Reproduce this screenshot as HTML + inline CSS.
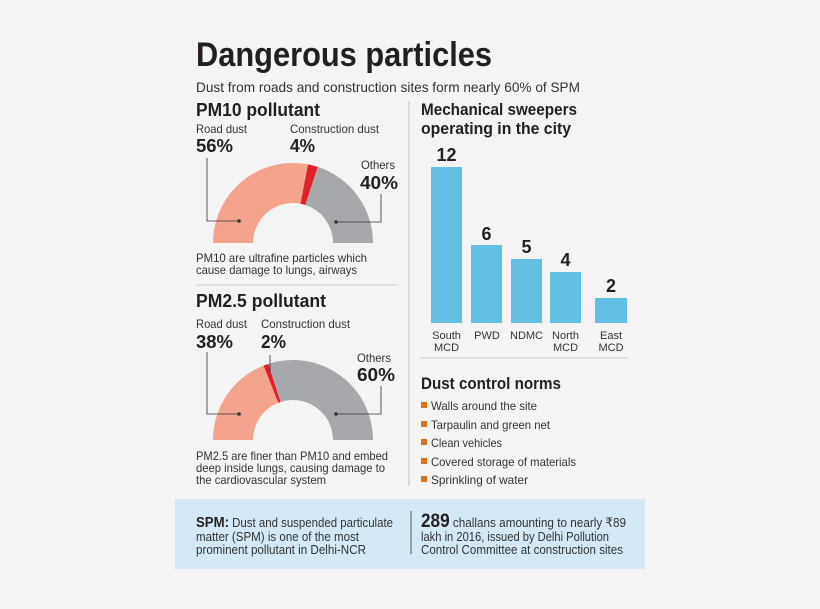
<!DOCTYPE html>
<html><head><meta charset="utf-8"><style>
html,body{margin:0;padding:0;background:#f4f4f4;}
svg{display:block;}
text{font-family:"Liberation Sans",sans-serif;fill:#231f20;}
.b{font-weight:bold;}
.l{fill:#333;}
</style></head><body>
<svg width="820" height="609" viewBox="0 0 820 609">
<rect width="820" height="609" fill="#f4f4f4"/>
<text x="196" y="66" class="b" font-size="34" textLength="296" lengthAdjust="spacingAndGlyphs">Dangerous particles</text>
<text x="196" y="92" font-size="14" class="l" textLength="384" lengthAdjust="spacingAndGlyphs">Dust from roads and construction sites form nearly 60% of SPM</text>

<line x1="409" y1="101" x2="409" y2="486" stroke="#bbb" stroke-width="1"/>
<line x1="196" y1="285" x2="397" y2="285" stroke="#ccc" stroke-width="1"/>
<line x1="420" y1="358" x2="628" y2="358" stroke="#ccc" stroke-width="1"/>

<!-- PM10 -->
<text x="196" y="116" class="b" font-size="18" textLength="124" lengthAdjust="spacingAndGlyphs">PM10 pollutant</text>
<text x="196" y="133" font-size="12" class="l" textLength="51" lengthAdjust="spacingAndGlyphs">Road dust</text>
<text x="196" y="152" class="b" font-size="18" textLength="37" lengthAdjust="spacingAndGlyphs">56%</text>
<text x="290" y="133" font-size="12" class="l" textLength="89" lengthAdjust="spacingAndGlyphs">Construction dust</text>
<text x="290" y="152" class="b" font-size="18" textLength="25" lengthAdjust="spacingAndGlyphs">4%</text>
<text x="361" y="169" font-size="12" class="l" textLength="34" lengthAdjust="spacingAndGlyphs">Others</text>
<text x="360" y="189" class="b" font-size="18" textLength="38" lengthAdjust="spacingAndGlyphs">40%</text>
<path d="M213 243 A80 80 0 0 1 308 164.4 L300.5 203.7 A40 40 0 0 0 253 243 Z" fill="#f4a48c"/>
<path d="M308 164.4 A80 80 0 0 1 317.7 166.9 L305.4 205 A40 40 0 0 0 300.5 203.7 Z" fill="#e0202a"/>
<path d="M317.7 166.9 A80 80 0 0 1 373 243 L333 243 A40 40 0 0 0 305.4 205 Z" fill="#a7a8ab"/>
<polyline points="207,158 207,221 239,221" fill="none" stroke="#333" stroke-width="0.8"/>
<circle cx="239" cy="221" r="1.8" fill="#333"/>
<polyline points="381,194 381,222 336,222" fill="none" stroke="#333" stroke-width="0.8"/>
<circle cx="336" cy="222" r="1.8" fill="#333"/>
<text x="196" y="262" font-size="12" class="l" textLength="171" lengthAdjust="spacingAndGlyphs">PM10 are ultrafine particles which</text>
<text x="196" y="274" font-size="12" class="l" textLength="161" lengthAdjust="spacingAndGlyphs">cause damage to lungs, airways</text>

<!-- PM2.5 -->
<text x="196" y="307" class="b" font-size="18" textLength="130" lengthAdjust="spacingAndGlyphs">PM2.5 pollutant</text>
<text x="196" y="328" font-size="12" class="l" textLength="51" lengthAdjust="spacingAndGlyphs">Road dust</text>
<text x="196" y="348" class="b" font-size="18" textLength="37" lengthAdjust="spacingAndGlyphs">38%</text>
<text x="261" y="328" font-size="12" class="l" textLength="89" lengthAdjust="spacingAndGlyphs">Construction dust</text>
<text x="261" y="348" class="b" font-size="18" textLength="25" lengthAdjust="spacingAndGlyphs">2%</text>
<text x="357" y="362" font-size="12" class="l" textLength="34" lengthAdjust="spacingAndGlyphs">Others</text>
<text x="357" y="381" class="b" font-size="18" textLength="38" lengthAdjust="spacingAndGlyphs">60%</text>
<path d="M213 440 A80 80 0 0 1 263.6 365.6 L278.3 402.8 A40 40 0 0 0 253 440 Z" fill="#f4a48c"/>
<path d="M263.6 365.6 A80 80 0 0 1 268.3 363.9 L280.6 402 A40 40 0 0 0 278.3 402.8 Z" fill="#e0202a"/>
<path d="M268.3 363.9 A80 80 0 0 1 373 440 L333 440 A40 40 0 0 0 280.6 402 Z" fill="#a7a8ab"/>
<line x1="270" y1="355" x2="270" y2="372" stroke="#333" stroke-width="0.8"/>
<polyline points="207,352 207,414 239,414" fill="none" stroke="#333" stroke-width="0.8"/>
<circle cx="239" cy="414" r="1.8" fill="#333"/>
<polyline points="381,386 381,414 336,414" fill="none" stroke="#333" stroke-width="0.8"/>
<circle cx="336" cy="414" r="1.8" fill="#333"/>
<text x="196" y="460" font-size="12" class="l" textLength="192" lengthAdjust="spacingAndGlyphs">PM2.5 are finer than PM10 and embed</text>
<text x="196" y="472" font-size="12" class="l" textLength="189" lengthAdjust="spacingAndGlyphs">deep inside lungs, causing damage to</text>
<text x="196" y="484" font-size="12" class="l" textLength="130" lengthAdjust="spacingAndGlyphs">the cardiovascular system</text>

<!-- bar chart -->
<text x="421" y="115" class="b" font-size="17" textLength="156" lengthAdjust="spacingAndGlyphs">Mechanical sweepers</text>
<text x="421" y="134" class="b" font-size="17" textLength="150" lengthAdjust="spacingAndGlyphs">operating in the city</text>
<g fill="#64bfe4">
<rect x="431" y="167" width="31" height="156"/>
<rect x="471" y="245" width="31" height="78"/>
<rect x="511" y="259" width="31" height="64"/>
<rect x="550" y="272" width="31" height="51"/>
<rect x="595" y="298" width="32" height="25"/>
</g>
<g class="b" font-size="18" text-anchor="middle">
<text x="446.5" y="161" class="b">12</text>
<text x="486.5" y="240" class="b">6</text>
<text x="526.5" y="253" class="b">5</text>
<text x="565.5" y="266" class="b">4</text>
<text x="611" y="292" class="b">2</text>
</g>
<g font-size="11" text-anchor="middle">
<text x="446.5" y="339" class="l">South</text><text x="446.5" y="351" class="l">MCD</text>
<text x="487" y="339" class="l">PWD</text>
<text x="526.5" y="339" class="l">NDMC</text>
<text x="565.5" y="339" class="l">North</text><text x="565.5" y="351" class="l">MCD</text>
<text x="611" y="339" class="l">East</text><text x="611" y="351" class="l">MCD</text>
</g>

<!-- norms -->
<text x="421" y="389" class="b" font-size="17" textLength="140" lengthAdjust="spacingAndGlyphs">Dust control norms</text>
<g fill="#d9711f">
<rect x="421" y="402" width="6" height="6"/>
<rect x="421" y="421" width="6" height="6"/>
<rect x="421" y="439" width="6" height="6"/>
<rect x="421" y="458" width="6" height="6"/>
<rect x="421" y="476" width="6" height="6"/>
</g>
<g font-size="12">
<text x="431" y="410" class="l" textLength="106" lengthAdjust="spacingAndGlyphs">Walls around the site</text>
<text x="431" y="429" class="l" textLength="119" lengthAdjust="spacingAndGlyphs">Tarpaulin and green net</text>
<text x="431" y="447" class="l" textLength="71" lengthAdjust="spacingAndGlyphs">Clean vehicles</text>
<text x="431" y="466" class="l" textLength="145" lengthAdjust="spacingAndGlyphs">Covered storage of materials</text>
<text x="431" y="484" class="l" textLength="97" lengthAdjust="spacingAndGlyphs">Sprinkling of water</text>
</g>

<!-- bottom box -->
<rect x="175" y="499" width="470" height="70" fill="#d4e9f5"/>
<line x1="411" y1="511" x2="411" y2="554" stroke="#555" stroke-width="1"/>
<text x="196" y="527" font-size="13" class="l" textLength="197" lengthAdjust="spacingAndGlyphs"><tspan class="b" font-size="15" fill="#231f20">SPM:</tspan> Dust and suspended particulate</text>
<text x="196" y="541" font-size="13" class="l" textLength="163" lengthAdjust="spacingAndGlyphs">matter (SPM) is one of the most</text>
<text x="196" y="554" font-size="13" class="l" textLength="170" lengthAdjust="spacingAndGlyphs">prominent pollutant in Delhi-NCR</text>
<text x="421" y="527" font-size="13" class="l" textLength="205" lengthAdjust="spacingAndGlyphs"><tspan class="b" font-size="19" fill="#231f20">289</tspan> challans amounting to nearly ₹89</text>
<text x="421" y="541" font-size="13" class="l" textLength="188" lengthAdjust="spacingAndGlyphs">lakh in 2016, issued by Delhi Pollution</text>
<text x="421" y="554" font-size="13" class="l" textLength="202" lengthAdjust="spacingAndGlyphs">Control Committee at construction sites</text>
</svg>
</body></html>
